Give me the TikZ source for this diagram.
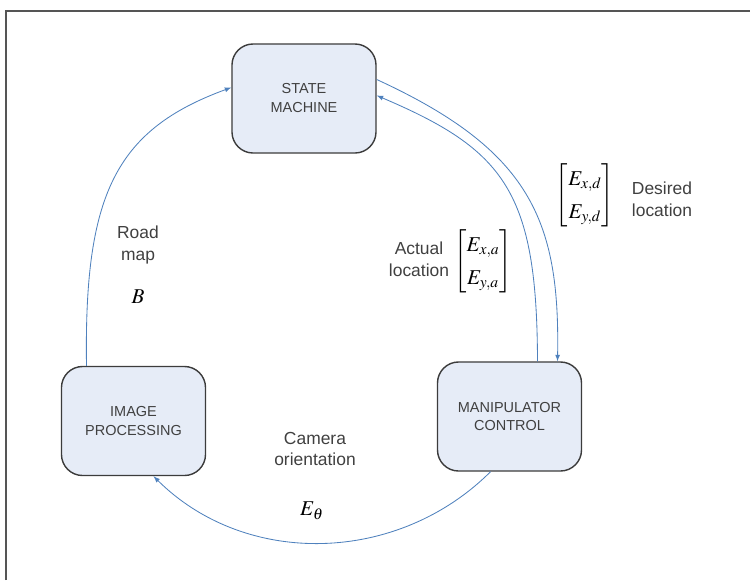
\documentclass[tikz,border=0pt]{standalone}
\usepackage{amsmath}
\usepackage{mathptmx}
\usepackage{fontspec}
\setmainfont{Liberation Sans}
\usepackage{tikz}
\tikzset{>=latex}
\definecolor{boxfill}{RGB}{230,236,247}
\definecolor{boxline}{RGB}{60,60,60}
\definecolor{flowblue}{RGB}{79,129,189}
\definecolor{txtgray}{RGB}{64,64,64}
\definecolor{framegray}{RGB}{85,85,85}
\tikzset{
    block/.style={draw=boxline, line width=1pt, fill=boxfill, rounded corners=15pt,
        minimum width=3.6cm, minimum height=2.725cm, align=center, text=txtgray,
        font=\fontsize{10.3}{13.5}\selectfont},
    flow/.style={->, draw=flowblue, line width=0.6pt},
    lbl/.style={align=center, text=txtgray, font=\fontsize{12.4}{15.5}\selectfont},
    eq/.style={font=\fontsize{15}{18}\selectfont}
}
\renewcommand{\arraystretch}{1.3}

\begin{document}
\begin{tikzpicture}[x=0.025cm, y=-0.025cm]
    \useasboundingbox (0,0) rectangle (750,580);
    \draw[framegray, line width=1.2pt](6,580)--(6,11)--(750,11);
    % the three blocks
    \node[block](sm) at (304,98.5){STATE\\MACHINE};
    \node[block](ip) at (133.5,421){IMAGE\\PROCESSING};
    \node[block](mc) at (509.5,416.5){MANIPULATOR\\CONTROL};
    % labels
    \node[lbl](roadmap) at (138,245){Road\\map};
    \node[eq](bmap) at (138,297){$B$};
    \node[lbl](actloc) at (419,259){Actual\\location};
    \node[eq](actvec) at (483,261){$\begin{bmatrix} E_{x,a}\\ E_{y,a}\end{bmatrix}$};
    \node[eq](desvec) at (585,195){$\begin{bmatrix} E_{x,d}\\ E_{y,d}\end{bmatrix}$};
    \node[lbl](desloc) at (662,199){Desired\\location};
    \node[lbl](camori) at (315,449){Camera\\orientation};
    \node[eq](etheta) at (312,511){$E_\theta$};
    % flows
    \draw[flow]([shift={(-47,0)}]ip.north) .. controls (84,195) and (115,130) .. ([shift={(0,-11)}]sm.west);
    \draw[flow]([shift={(0,-19)}]sm.east) .. controls (530,150) and (560,220) .. ([shift={(48,0)}]mc.north);
    \draw[flow]([shift={(28,0)}]mc.north) .. controls (537,192) and (505,150) .. ([shift={(0,-3)}]sm.east);
    \draw[flow]([shift={(-19,0)}]mc.south) .. controls (398,564) and (246,568) .. ([shift={(20,0)}]ip.south);
\end{tikzpicture}
\end{document}
